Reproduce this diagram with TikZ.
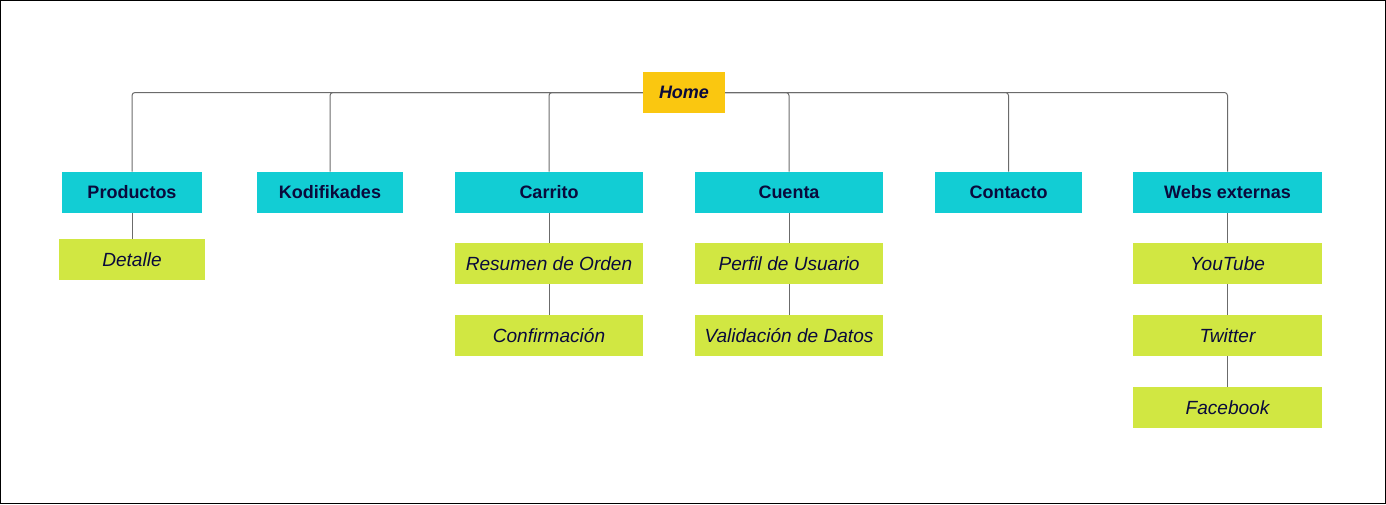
\documentclass[tikz,border=0pt]{standalone}
\usepackage{fontspec}
\setmainfont{Liberation Sans}
\definecolor{teal}{HTML}{12CDD4}
\definecolor{lime}{HTML}{D1E742}
\definecolor{gold}{HTML}{FAC710}
\definecolor{navy}{HTML}{0A0A3C}
\definecolor{wire}{HTML}{6B6B6B}
\begin{document}
\begin{tikzpicture}[x=0.75pt,y=-0.75pt,
  box/.style={inner sep=0pt,minimum height={41*0.75pt},text=navy,
    font=\fontsize{13.5pt}{16pt}\selectfont},
  topbox/.style={box,fill=teal,font=\fontsize{13.5pt}{16pt}\selectfont\bfseries},
  subbox/.style={box,fill=lime,font=\fontsize{14.3pt}{17pt}\selectfont\itshape},
  homebox/.style={box,fill=gold,font=\fontsize{13.5pt}{16pt}\selectfont\bfseries\itshape},
  link/.style={draw=wire,line width=0.75pt,rounded corners=2.25pt}]
\useasboundingbox (0,0) rectangle (1386,504);
\draw[black,line width=0.75pt] (0.5,0.5) rectangle (1385.5,503.5);
% nodes
\node[topbox,minimum width={140*0.75pt}] (prod) at (132,192.5) {Productos};
\node[topbox,minimum width={146*0.75pt}] (kod) at (330,192.5) {Kodifikades};
\node[topbox,minimum width={188*0.75pt}] (car) at (549,192.5) {Carrito};
\node[topbox,minimum width={188*0.75pt}] (cue) at (789,192.5) {Cuenta};
\node[topbox,minimum width={147*0.75pt}] (con) at (1008.5,192.5) {Contacto};
\node[topbox,minimum width={189*0.75pt}] (web) at (1227.5,192.5) {Webs externas};
\node[subbox,minimum width={146*0.75pt}] (det) at (132,259.5) {Detalle};
\node[subbox,minimum width={188*0.75pt}] (res) at (549,263.5) {Resumen de Orden};
\node[subbox,minimum width={188*0.75pt}] (conf) at (549,335.5) {Confirmación};
\node[subbox,minimum width={188*0.75pt}] (perf) at (789,263.5) {Perfil de Usuario};
\node[subbox,minimum width={188*0.75pt}] (val) at (789,335.5) {Validación de Datos};
\node[subbox,minimum width={189*0.75pt}] (yt) at (1227.5,263.5) {YouTube};
\node[subbox,minimum width={189*0.75pt}] (tw) at (1227.5,335.5) {Twitter};
\node[subbox,minimum width={189*0.75pt}] (fb) at (1227.5,407.5) {Facebook};
% connectors
\coordinate (hub) at (684,92.5);
\draw[link] (hub) -| (prod.north);
\draw[link] (hub) -| (kod.north);
\draw[link] (hub) -| (car.north);
\draw[link] (hub) -| (cue.north);
\draw[link] (hub) -| (con.north);
\draw[link] (hub) -| (web.north);
\draw[link] (prod.south) -- (det.north);
\draw[link] (car.south) -- (res.north);
\draw[link] (res.south) -- (conf.north);
\draw[link] (cue.south) -- (perf.north);
\draw[link] (perf.south) -- (val.north);
\draw[link] (web.south) -- (yt.north);
\draw[link] (yt.south) -- (tw.north);
\draw[link] (tw.south) -- (fb.north);
\node[homebox,minimum width={82*0.75pt}] (home) at (hub) {Home};
\end{tikzpicture}
\end{document}
